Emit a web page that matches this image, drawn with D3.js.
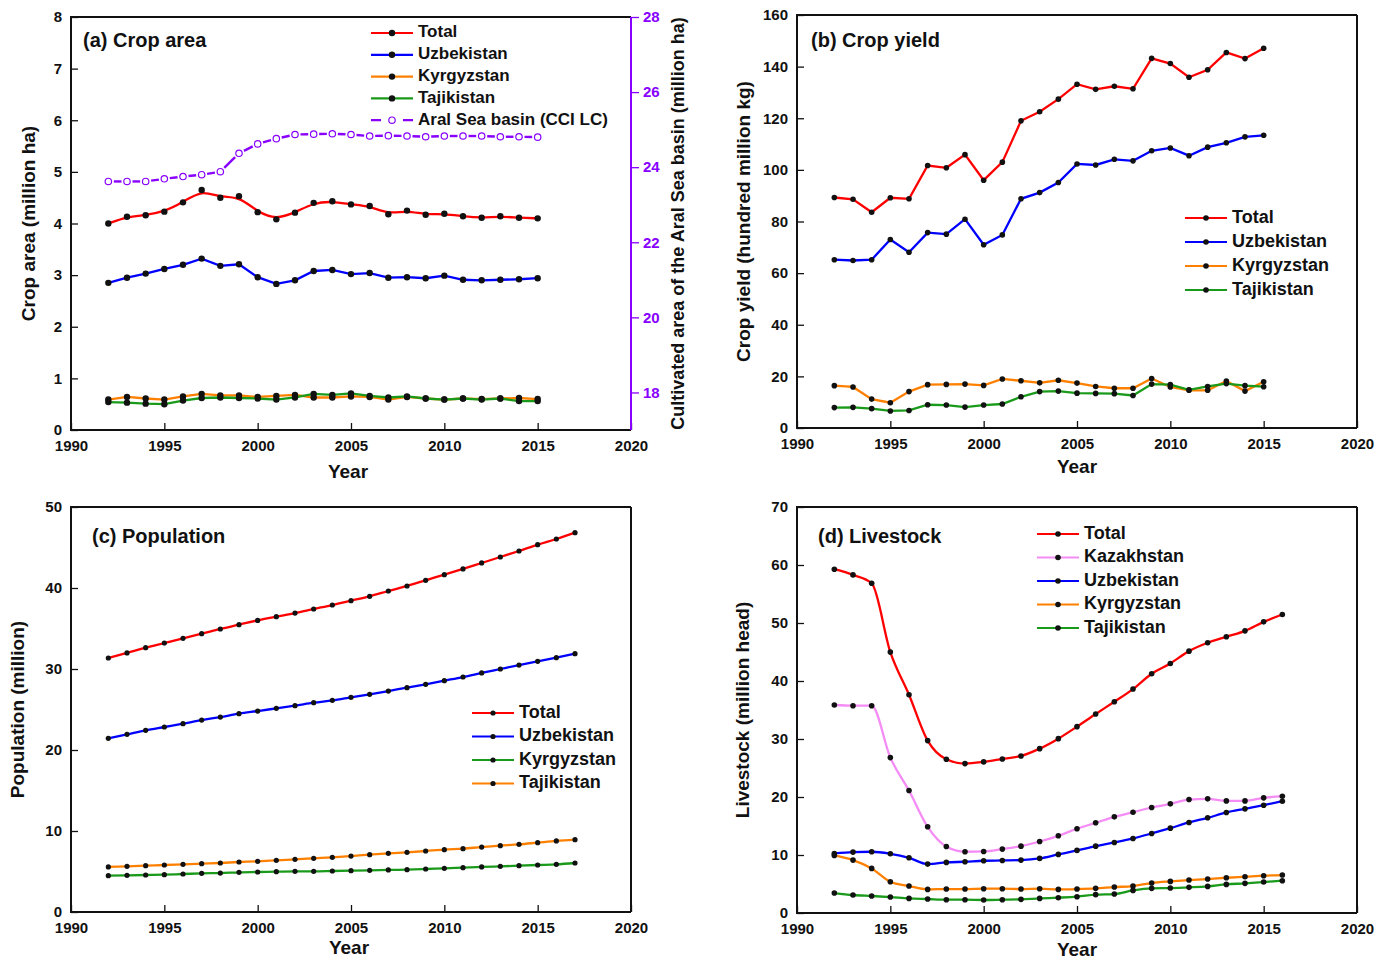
<!DOCTYPE html>
<html>
<head>
<meta charset="utf-8">
<script src="https://cdn.jsdelivr.net/npm/d3@7"></script>
<style>
  html, body { margin: 0; padding: 0; background: #fff; }
  svg text { font-family: "Liberation Sans", Arial, sans-serif; font-weight: bold; fill: #111; }
</style>
</head>
<body>
<svg id="chart" width="1389" height="960"></svg>
<script>
// ---- Years ----
const yearsAB = [1992,1993,1994,1995,1996,1997,1998,1999,2000,2001,2002,2003,2004,2005,2006,2007,2008,2009,2010,2011,2012,2013,2014,2015];
const yearsC = [1992,1993,1994,1995,1996,1997,1998,1999,2000,2001,2002,2003,2004,2005,2006,2007,2008,2009,2010,2011,2012,2013,2014,2015,2016,2017];
const yearsD = [1992,1993,1994,1995,1996,1997,1998,1999,2000,2001,2002,2003,2004,2005,2006,2007,2008,2009,2010,2011,2012,2013,2014,2015,2016];

// ---- (a) Crop area, million ha ----
const areaTotal = [4.00,4.13,4.16,4.23,4.41,4.65,4.50,4.53,4.22,4.08,4.21,4.40,4.43,4.37,4.34,4.18,4.25,4.17,4.19,4.14,4.11,4.14,4.11,4.10];
const areaUzb   = [2.85,2.95,3.03,3.12,3.20,3.32,3.18,3.21,2.96,2.83,2.90,3.08,3.10,3.02,3.04,2.95,2.96,2.94,2.99,2.91,2.90,2.91,2.92,2.94];
const areaKgz   = [0.59,0.64,0.61,0.59,0.65,0.70,0.67,0.67,0.64,0.66,0.68,0.63,0.63,0.65,0.64,0.59,0.64,0.61,0.59,0.61,0.60,0.61,0.62,0.60];
const areaTjk   = [0.54,0.53,0.51,0.50,0.57,0.62,0.63,0.62,0.61,0.59,0.63,0.70,0.68,0.71,0.66,0.63,0.65,0.61,0.59,0.61,0.59,0.61,0.56,0.56];
const areaAral  = [23.62,23.62,23.62,23.69,23.75,23.80,23.88,24.37,24.62,24.76,24.87,24.88,24.89,24.87,24.83,24.84,24.83,24.81,24.83,24.83,24.83,24.81,24.81,24.80];

// ---- (b) Crop yield, hundred million kg ----
const yieldTotal = [89.3,88.6,83.6,89.2,88.8,101.7,100.8,105.9,96.0,103.0,119.0,122.5,127.4,133.2,131.2,132.4,131.4,143.2,141.2,135.9,138.8,145.5,143.1,147.1];
const yieldUzb   = [65.2,64.9,65.2,73.0,68.1,75.7,75.1,80.9,71.0,74.8,88.8,91.2,95.1,102.3,101.9,104.1,103.5,107.4,108.5,105.5,108.8,110.5,112.8,113.4];
const yieldKgz   = [16.4,15.9,11.2,9.8,14.1,16.8,16.9,17.0,16.5,19.0,18.3,17.5,18.5,17.4,16.1,15.4,15.4,19.2,15.9,14.6,14.6,18.2,14.3,17.9];
const yieldTjk   = [7.9,8.0,7.5,6.6,6.8,9.0,8.9,8.1,8.9,9.3,12.1,14.1,14.3,13.5,13.4,13.3,12.6,17.0,16.8,14.8,16.1,17.2,16.4,16.0];

// ---- (c) Population, million ----
const popTotal = [31.36,31.98,32.63,33.21,33.79,34.36,34.94,35.47,36.00,36.46,36.91,37.41,37.90,38.44,38.97,39.63,40.25,40.95,41.65,42.35,43.09,43.83,44.57,45.35,46.05,46.83];
const popUzb   = [21.44,21.93,22.43,22.84,23.25,23.70,24.07,24.49,24.81,25.14,25.47,25.84,26.13,26.50,26.87,27.28,27.70,28.11,28.56,29.01,29.51,30.00,30.49,30.95,31.40,31.89];
const popKgz   = [4.49,4.53,4.57,4.61,4.69,4.77,4.81,4.90,4.94,4.98,5.02,5.02,5.06,5.10,5.14,5.19,5.23,5.31,5.39,5.47,5.56,5.64,5.72,5.80,5.88,6.05];
const popTjk   = [5.56,5.64,5.72,5.80,5.88,5.97,6.05,6.17,6.26,6.38,6.50,6.63,6.75,6.91,7.08,7.24,7.37,7.53,7.70,7.82,8.02,8.19,8.35,8.56,8.77,8.93];

// ---- (d) Livestock, million head ----
const lvTotal = [59.27,58.29,56.86,44.98,37.64,29.72,26.51,25.76,26.05,26.56,27.08,28.34,30.06,32.13,34.31,36.43,38.61,41.25,43.03,45.15,46.59,47.62,48.65,50.20,51.46];
const lvKaz   = [35.86,35.74,35.74,26.79,21.11,14.86,11.47,10.56,10.61,11.02,11.53,12.33,13.31,14.52,15.55,16.58,17.38,18.19,18.82,19.56,19.68,19.33,19.33,19.85,20.14];
const lvUzb   = [10.27,10.50,10.56,10.21,9.52,8.43,8.72,8.84,9.01,9.06,9.12,9.41,10.10,10.79,11.53,12.16,12.85,13.71,14.63,15.61,16.41,17.33,17.96,18.59,19.28];
const lvKgz   = [9.93,9.12,7.69,5.39,4.65,4.07,4.13,4.13,4.19,4.19,4.13,4.19,4.07,4.13,4.25,4.47,4.65,5.16,5.45,5.68,5.85,6.08,6.25,6.43,6.54];
const lvTjk   = [3.44,3.10,2.93,2.75,2.52,2.41,2.29,2.29,2.24,2.29,2.35,2.52,2.64,2.81,3.16,3.27,3.90,4.25,4.30,4.42,4.59,4.93,5.11,5.34,5.57];

// ---- Axis ticks ----
const xMajor = [1990,1995,2000,2005,2010,2015,2020];
const xMinor = [1991,1992,1993,1994,1996,1997,1998,1999,2001,2002,2003,2004,2006,2007,2008,2009,2011,2012,2013,2014,2016,2017,2018,2019];

const C = {
  red: "#ff0000", blue: "#0000ff", orange: "#ff8000", green: "#1a9a1a",
  pink: "#f58cf5", purple: "#8800ff"
};

const svg = d3.select("#chart");

function drawPanel(p) {
  const g = svg.append("g");
  const x = d3.scaleLinear().domain([1990, 2020]).range([p.x0, p.x1]);
  const y = d3.scaleLinear().domain(p.yDomain).range([p.yBot, p.yTop]);

  // minor and major ticks on the bottom axis (pointing inward)
  const bx = g.append("g").attr("transform", `translate(0,${p.yBot})`);
  bx.call(d3.axisBottom(x).tickValues(xMinor).tickSize(-4).tickFormat(""));
  bx.call(d3.axisBottom(x).tickValues(xMajor).tickSize(-7).tickFormat(d3.format("d")).tickPadding(18));
  bx.selectAll(".domain").remove();
  bx.selectAll("line").attr("stroke", "#111").attr("stroke-width", 1.3);
  bx.selectAll("text").attr("font-size", 15).attr("dy", "0.2em");

  // left axis
  const ly = g.append("g").attr("transform", `translate(${p.x0},0)`);
  ly.call(d3.axisLeft(y).tickValues(p.yMinor).tickSize(-4).tickFormat(""));
  ly.call(d3.axisLeft(y).tickValues(p.yMajor).tickSize(-7).tickPadding(9));
  ly.selectAll(".domain").remove();
  ly.selectAll("line").attr("stroke", "#111").attr("stroke-width", 1.3);
  ly.selectAll("text").attr("font-size", 15);

  // frame
  g.append("path")
    .attr("d", `M${p.x1},${p.yTop} H${p.x0} V${p.yBot} H${p.x1}`)
    .attr("fill", "none").attr("stroke", "#111").attr("stroke-width", 2);
  g.append("line")
    .attr("x1", p.x1).attr("x2", p.x1).attr("y1", p.yTop).attr("y2", p.yBot)
    .attr("stroke", p.rightColor || "#111").attr("stroke-width", 2);

  // series
  p.series.forEach(s => {
    const pts = s.values.map((v, i) => [x(s.years[i]), y(v)]);
    g.append("path")
      .attr("d", d3.line().curve(s.curve || d3.curveLinear)(pts))
      .attr("fill", "none").attr("stroke", s.color).attr("stroke-width", 2.3);
    g.append("g").selectAll("circle").data(pts).join("circle")
      .attr("cx", d => d[0]).attr("cy", d => d[1]).attr("r", p.r)
      .attr("fill", "#111");
  });

  // panel title
  g.append("text").attr("x", p.title[1]).attr("y", p.title[2])
    .attr("font-size", 20).attr("dominant-baseline", "middle").text(p.title[0]);

  // axis titles
  g.append("text").attr("x", (p.x0 + p.x1) / 2 + p.xTitleDx).attr("y", p.xTitleY)
    .attr("text-anchor", "middle").attr("font-size", 19).text("Year");
  g.append("text")
    .attr("transform", `translate(${p.yTitleX},${(p.yTop + p.yBot) / 2 + (p.yTitleDy || 0)}) rotate(-90)`)
    .attr("text-anchor", "middle").attr("dominant-baseline", "middle")
    .attr("font-size", 19).text(p.yTitle);

  // legend
  const lg = g.append("g");
  p.series.concat(p.extraLegend || []).forEach((s, i) => {
    const ly0 = p.legend.y + i * p.legend.dy;
    const lx0 = p.legend.x;
    if (s.dashed) {
      lg.append("line").attr("x1", lx0).attr("x2", lx0 + 42).attr("y1", ly0).attr("y2", ly0)
        .attr("stroke", s.color).attr("stroke-width", 2.2).attr("stroke-dasharray", "10,6");
      lg.append("rect").attr("x", lx0 + 13).attr("y", ly0 - 4).attr("width", 16).attr("height", 8).attr("fill", "#fff");
      lg.append("circle").attr("cx", lx0 + 21).attr("cy", ly0).attr("r", 3.2)
        .attr("fill", "#fff").attr("stroke", s.color).attr("stroke-width", 1.2);
    } else {
      lg.append("line").attr("x1", lx0).attr("x2", lx0 + 42).attr("y1", ly0).attr("y2", ly0)
        .attr("stroke", s.color).attr("stroke-width", 2.2);
      lg.append("circle").attr("cx", lx0 + 21).attr("cy", ly0).attr("r", p.r).attr("fill", "#111");
    }
    lg.append("text").attr("x", lx0 + 47).attr("y", ly0).attr("dominant-baseline", "middle")
      .attr("font-size", p.legend.fs).text(s.name);
  });

  return { g, x, y };
}

// ---- Panel (a) ----
const pa = drawPanel({
  x0: 71, x1: 631, yTop: 17, yBot: 430,
  yDomain: [0, 8], yMajor: [0,1,2,3,4,5,6,7,8], yMinor: [0.5,1.5,2.5,3.5,4.5,5.5,6.5,7.5],
  r: 3.2, rightColor: C.purple,
  title: ["(a) Crop area", 83, 42],
  xTitleY: 478, xTitleDx: -3, yTitle: "Crop area (million ha)", yTitleX: 30,
  series: [
    { name: "Total", color: C.red, values: areaTotal, years: yearsAB, curve: d3.curveBasis },
    { name: "Uzbekistan", color: C.blue, values: areaUzb, years: yearsAB },
    { name: "Kyrgyzstan", color: C.orange, values: areaKgz, years: yearsAB },
    { name: "Tajikistan", color: C.green, values: areaTjk, years: yearsAB }
  ],
  extraLegend: [{ name: "Aral Sea basin (CCI LC)", color: C.purple, dashed: true }],
  legend: { x: 371, y: 33, dy: 21.8, fs: 17 }
});

// right axis: cultivated area of the Aral Sea basin
{
  const yR = d3.scaleLinear().domain([17, 28]).range([430, 17]);
  const ra = pa.g.append("g").attr("transform", "translate(631,0)");
  ra.call(d3.axisRight(yR).tickValues([17,19,21,23,25,27]).tickSize(4).tickFormat(""));
  ra.call(d3.axisRight(yR).tickValues([18,20,22,24,26,28]).tickSize(8).tickPadding(4));
  ra.selectAll(".domain").remove();
  ra.selectAll("line").attr("stroke", C.purple).attr("stroke-width", 1.3);
  ra.selectAll("text").attr("font-size", 15).style("fill", C.purple);

  pa.g.append("text")
    .attr("transform", `translate(679,${(17 + 430) / 2}) rotate(-90)`)
    .attr("text-anchor", "middle").attr("dominant-baseline", "middle")
    .attr("font-size", 18).text("Cultivated area of the Aral Sea basin (million ha)");

  // dashed segments with gaps around open markers
  const pts = areaAral.map((v, i) => [pa.x(yearsAB[i]), yR(v)]);
  const gap = 5.5;
  const segs = d3.pairs(pts).map(([a, b]) => {
    const dx = b[0] - a[0], dy = b[1] - a[1], L = Math.hypot(dx, dy);
    const ux = dx / L, uy = dy / L;
    return [a[0] + ux * gap, a[1] + uy * gap, b[0] - ux * gap, b[1] - uy * gap];
  });
  pa.g.append("g").selectAll("line").data(segs).join("line")
    .attr("x1", d => d[0]).attr("y1", d => d[1]).attr("x2", d => d[2]).attr("y2", d => d[3])
    .attr("stroke", C.purple).attr("stroke-width", 2.4);
  pa.g.append("g").selectAll("circle").data(pts).join("circle")
    .attr("cx", d => d[0]).attr("cy", d => d[1]).attr("r", 3.2)
    .attr("fill", "#fff").attr("stroke", C.purple).attr("stroke-width", 1.2);
}

// ---- Panel (b) ----
drawPanel({
  x0: 797, x1: 1357, yTop: 15, yBot: 428,
  yDomain: [0, 160], yMajor: [0,20,40,60,80,100,120,140,160], yMinor: [10,30,50,70,90,110,130,150],
  r: 2.8,
  title: ["(b) Crop yield", 811, 42],
  xTitleY: 473, xTitleDx: 0, yTitle: "Crop yield (hundred million kg)", yTitleX: 745,
  series: [
    { name: "Total", color: C.red, values: yieldTotal, years: yearsAB },
    { name: "Uzbekistan", color: C.blue, values: yieldUzb, years: yearsAB },
    { name: "Kyrgyzstan", color: C.orange, values: yieldKgz, years: yearsAB },
    { name: "Tajikistan", color: C.green, values: yieldTjk, years: yearsAB }
  ],
  legend: { x: 1185, y: 218, dy: 24, fs: 18 }
});

// ---- Panel (c) ----
drawPanel({
  x0: 71, x1: 631, yTop: 507, yBot: 912,
  yDomain: [0, 50], yMajor: [0,10,20,30,40,50], yMinor: [5,15,25,35,45],
  r: 2.6,
  title: ["(c) Population", 92, 538],
  xTitleY: 954, xTitleDx: -2, yTitle: "Population (million)", yTitleX: 19,
  series: [
    { name: "Total", color: C.red, values: popTotal, years: yearsC, curve: d3.curveMonotoneX },
    { name: "Uzbekistan", color: C.blue, values: popUzb, years: yearsC, curve: d3.curveMonotoneX },
    { name: "Kyrgyzstan", color: C.green, values: popKgz, years: yearsC, curve: d3.curveMonotoneX },
    { name: "Tajikistan", color: C.orange, values: popTjk, years: yearsC, curve: d3.curveMonotoneX }
  ],
  legend: { x: 472, y: 713, dy: 23.5, fs: 18 }
});

// ---- Panel (d) ----
drawPanel({
  x0: 797, x1: 1357, yTop: 507, yBot: 913,
  yDomain: [0, 70], yMajor: [0,10,20,30,40,50,60,70], yMinor: [5,15,25,35,45,55,65],
  r: 2.8,
  title: ["(d) Livestock", 818, 538],
  xTitleY: 956, xTitleDx: 0, yTitle: "Livestock (million head)", yTitleX: 744,
  series: [
    { name: "Total", color: C.red, values: lvTotal, years: yearsD, curve: d3.curveMonotoneX },
    { name: "Kazakhstan", color: C.pink, values: lvKaz, years: yearsD, curve: d3.curveMonotoneX },
    { name: "Uzbekistan", color: C.blue, values: lvUzb, years: yearsD, curve: d3.curveMonotoneX },
    { name: "Kyrgyzstan", color: C.orange, values: lvKgz, years: yearsD, curve: d3.curveMonotoneX },
    { name: "Tajikistan", color: C.green, values: lvTjk, years: yearsD, curve: d3.curveMonotoneX }
  ],
  legend: { x: 1037, y: 534, dy: 23.5, fs: 18 }
});
</script>
</body>
</html>
